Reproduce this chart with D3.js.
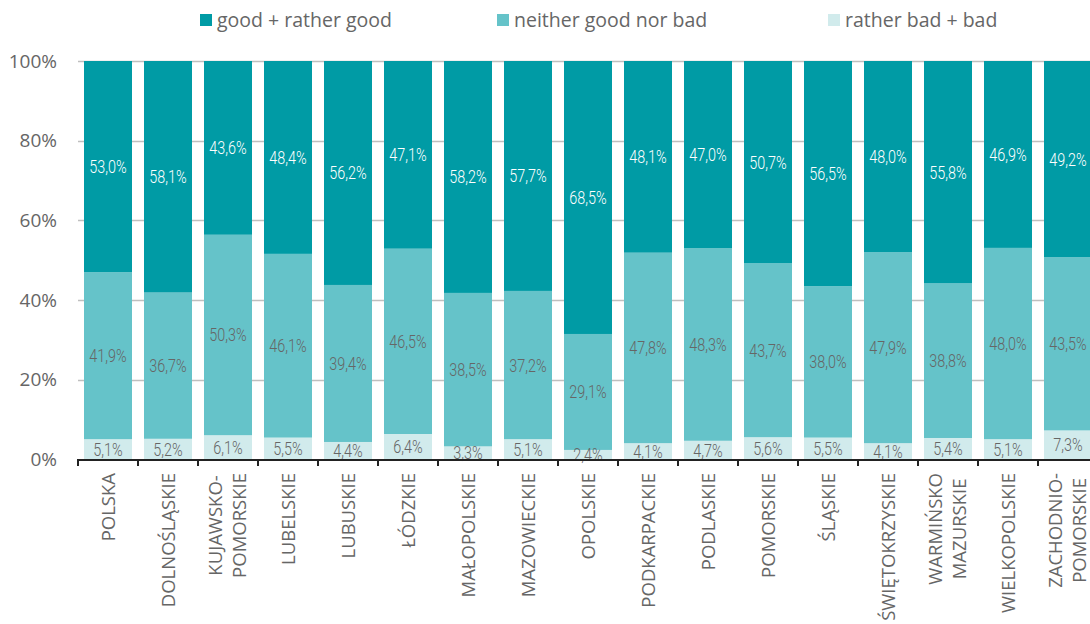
<!DOCTYPE html>
<html><head><meta charset="utf-8">
<script src="https://cdn.jsdelivr.net/npm/d3@7"></script>
<style>
body{margin:0;background:#fff;}
svg{display:block;}
</style></head>
<body>
<svg id="chart" width="1090" height="624"></svg>
<script>
const categories = ["POLSKA","DOLNOŚLĄSKIE","KUJAWSKO-\nPOMORSKIE","LUBELSKIE","LUBUSKIE","ŁÓDZKIE","MAŁOPOLSKIE","MAZOWIECKIE","OPOLSKIE","PODKARPACKIE","PODLASKIE","POMORSKIE","ŚLĄSKIE","ŚWIĘTOKRZYSKIE","WARMIŃSKO\nMAZURSKIE","WIELKOPOLSKIE","ZACHODNIO-\nPOMORSKIE"];
const seriesNames = ["rather bad + bad","neither good nor bad","good + rather good"];
const bad     = [5.1,5.2,6.1,5.5,4.4,6.4,3.3,5.1,2.4,4.1,4.7,5.6,5.5,4.1,5.4,5.1,7.3];
const neither = [41.9,36.7,50.3,46.1,39.4,46.5,38.5,37.2,29.1,47.8,48.3,43.7,38.0,47.9,38.8,48.0,43.5];
const good    = [53.0,58.1,43.6,48.4,56.2,47.1,58.2,57.7,68.5,48.1,47.0,50.7,56.5,48.0,55.8,46.9,49.2];
const yTicks = [0,20,40,60,80,100];
const colors = ["#d1ebec","#65c3c9","#009ba5"];
const labelColors = ["#666666","#666666","#ffffff"];

const svg = d3.select("#chart");
const font = "'Open Sans', sans-serif";
const narrow = "Roboto, sans-serif";

const x = d3.scaleBand().domain(categories).range([78, 1098]).paddingInner(0.2).paddingOuter(0.1);
const y = d3.scaleLinear().domain([0,100]).range([459.5, 61]);

// gridlines
svg.append("g").selectAll("line").data(yTicks.filter(d=>d>0)).join("line")
  .attr("x1",78).attr("x2",1090).attr("y1",d=>Math.round(y(d))+0.5).attr("y2",d=>Math.round(y(d))+0.5)
  .attr("stroke","#bfbfbf").attr("stroke-width",1.5);

// y axis labels
const yAxis = d3.axisLeft(y).tickValues(yTicks).tickFormat(d=>d+"%").tickSize(0).tickPadding(21);
const gy = svg.append("g").attr("transform","translate(78,0)").call(yAxis);
gy.select(".domain").remove();
gy.selectAll("text").attr("font-family",font).attr("font-size",19).attr("fill","#666666");

// stacked data
const rows = categories.map((c,i)=>({cat:c, [seriesNames[0]]:bad[i], [seriesNames[1]]:neither[i], [seriesNames[2]]:good[i]}));
const stack = d3.stack().keys(seriesNames)(rows);

const gBars = svg.append("g");
stack.forEach((layer,k)=>{
  const g = gBars.append("g");
  g.selectAll("rect").data(layer).join("rect")
    .attr("x",d=>x(d.data.cat)).attr("width",x.bandwidth())
    .attr("y",d=>y(d[1])).attr("height",d=>y(d[0])-y(d[1]))
    .attr("fill",colors[k]);
});
stack.forEach((layer,k)=>{
  const g = gBars.append("g");
  g.selectAll("text").data(layer).join("text")
    .attr("transform",d=>`translate(${x(d.data.cat)+x.bandwidth()/2},${(y(d[0])+y(d[1]))/2}) scale(0.8,1)`)
    .attr("dy","0.36em")
    .attr("text-anchor","middle")
    .attr("font-family",narrow).attr("font-weight",300).attr("font-size",18)
    .attr("fill",labelColors[k])
    .text(d=>(d[1]-d[0]).toFixed(1).replace(".",",")+"%");
});

// x axis line and ticks
const step = x.step();
const off = (step - x.bandwidth())/2;
svg.append("line").attr("x1",77).attr("x2",1090).attr("y1",460).attr("y2",460)
  .attr("stroke","#222").attr("stroke-width",2);
svg.append("g").selectAll("line").data(categories).join("line")
  .attr("x1",d=>x(d)-off).attr("x2",d=>x(d)-off).attr("y1",460).attr("y2",466)
  .attr("stroke","#222").attr("stroke-width",2);

// category labels
const gc = svg.append("g").selectAll("g").data(categories).join("g")
  .attr("transform",d=>`translate(${x(d)+x.bandwidth()/2},473) rotate(-90)`);
gc.each(function(d){
  const lines = d.split("\n");
  const g = d3.select(this);
  const texts = lines.map((ln,i)=>g.append("text")
    .attr("font-family",font).attr("font-size",18.5).attr("fill","#666666")
    .attr("y",lines.length>1 ? (i-0.5)*24-1 : 0).attr("dy","0.36em")
    .text(ln));
  const maxLen = d3.max(texts,t=>t.node().getComputedTextLength());
  texts.forEach(t=>t.attr("text-anchor","middle").attr("x",-maxLen/2));
});

// legend
const legendX = [200,497,828];
const legendOrder = [2,1,0];
const lg = svg.append("g").selectAll("g").data(legendOrder).join("g")
  .attr("transform",(d,i)=>`translate(${legendX[i]},14)`);
lg.append("rect").attr("width",12).attr("height",12).attr("fill",d=>colors[d]);
lg.append("text").attr("x",17).attr("y",6).attr("dy","0.36em")
  .attr("font-family",font).attr("font-size",19.5).attr("fill","#666666")
  .text(d=>seriesNames[d]);
</script>
</body></html>
